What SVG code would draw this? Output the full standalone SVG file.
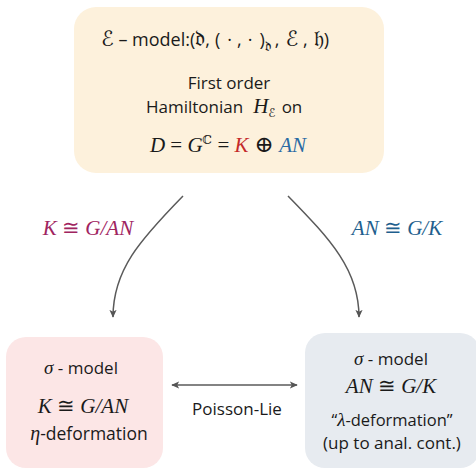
<svg xmlns="http://www.w3.org/2000/svg" width="476" height="471" viewBox="0 0 476 471">
  <defs>
    <marker id="arrow" viewBox="0 0 10 10" refX="9" refY="5" markerWidth="8" markerHeight="8" orient="auto-start-reverse" markerUnits="userSpaceOnUse">
      <path d="M0,0.5 L10,5 L0,9.5 L2.5,5 Z" fill="#555"/>
    </marker>
    <style>
      .sans { font-family: "Open Sans", "Lato", "DejaVu Sans", sans-serif; fill: #1a1a1a; }
      .math { font-family: "Liberation Serif", "DejaVu Serif", serif; font-style: italic; fill: #1a1a1a; }
      .up { font-style: normal; }
      .sym { font-family: "DejaVu Serif", "DejaVu Sans", serif; font-style: normal; }
      .red { fill: #c42a2a; }
      .blue { fill: #2a6aa4; }
      .plum { fill: #a0245f; }
      .navy { fill: #1f5f8e; }
      .edge { fill: none; stroke: #5a5a5a; stroke-width: 1.5; }
    </style>
  </defs>

  <rect width="476" height="471" fill="#ffffff"/>

  <!-- top node: E-model -->
  <g id="emodel">
    <rect x="74" y="7" width="310" height="166" rx="22" fill="#fdf1dc"/>
    <text x="101" y="46" class="sans" font-size="18"><tspan class="sym" font-style="italic" font-size="21">ℰ</tspan> – model:(<tspan class="sym" font-size="22">𝔡</tspan>,<tspan dx="5">(</tspan><tspan dx="7">·</tspan><tspan dx="5">,</tspan><tspan dx="6">·</tspan><tspan dx="7">)</tspan><tspan class="sym" font-size="14" dy="5">𝔡</tspan><tspan dy="-5" dx="4">,</tspan><tspan class="sym" font-size="21" dx="6">ℰ</tspan><tspan dx="5">,</tspan><tspan class="sym" font-size="22" dx="6">𝔥</tspan>)</text>
    <text x="229" y="89" class="sans" font-size="17" text-anchor="middle">First order</text>
    <text x="146" y="113" class="sans" font-size="17">Hamiltonian<tspan class="math" font-size="21" dx="10">H</tspan><tspan class="sym" font-size="12" dy="4">ℰ</tspan><tspan dy="-4" dx="6">on</tspan></text>
    <text x="228" y="152" class="math" font-size="21" text-anchor="middle">D <tspan class="up">=</tspan> G<tspan class="sym" font-size="12" dy="-8">ℂ</tspan><tspan class="up" dy="8"> = </tspan><tspan class="red">K</tspan><tspan class="up" font-size="23"> ⊕ </tspan><tspan class="blue">AN</tspan></text>
  </g>

  <!-- bottom-left node: sigma model on K -->
  <g id="eta">
    <rect x="6" y="337" width="157" height="131" rx="20" fill="#fce6e6"/>
    <text x="81" y="374" class="sans" font-size="17" text-anchor="middle"><tspan class="math" font-size="19">σ</tspan> - model</text>
    <text x="83" y="413" class="math" font-size="21" text-anchor="middle">K <tspan class="up">≅</tspan> G/AN</text>
    <text x="89" y="440" class="sans" font-size="17.5" text-anchor="middle"><tspan class="math" font-size="20">η</tspan>-deformation</text>
  </g>

  <!-- bottom-right node: sigma model on AN -->
  <g id="lambda">
    <rect x="305" y="333" width="175" height="135" rx="20" fill="#e7ebf0"/>
    <text x="391" y="365" class="sans" font-size="17" text-anchor="middle"><tspan class="math" font-size="19">σ</tspan> - model</text>
    <text x="391" y="393" class="math" font-size="21" text-anchor="middle">AN <tspan class="up">≅</tspan> G/K</text>
    <text x="392" y="426" class="sans" font-size="16.5" text-anchor="middle">“<tspan class="math" font-size="19">λ</tspan>-deformation”</text>
    <text x="392" y="449" class="sans" font-size="17" text-anchor="middle">(up to anal. cont.)</text>
  </g>

  <!-- connectors -->
  <g id="connectors">
    <path class="edge" d="M183,196 C140,240 113,270 113,317" marker-end="url(#arrow)"/>
    <path class="edge" d="M288,196 C331,240 359,270 359,317" marker-end="url(#arrow)"/>
    <path class="edge" d="M172,385 L297,385" marker-start="url(#arrow)" marker-end="url(#arrow)"/>
    <text x="88" y="235" class="math plum" font-size="21" text-anchor="middle">K <tspan class="up">≅</tspan> G/AN</text>
    <text x="397" y="235" class="math navy" font-size="21" text-anchor="middle">AN <tspan class="up">≅</tspan> G/K</text>
    <text x="237" y="415" class="sans" font-size="17" text-anchor="middle">Poisson-Lie</text>
  </g>
</svg>
